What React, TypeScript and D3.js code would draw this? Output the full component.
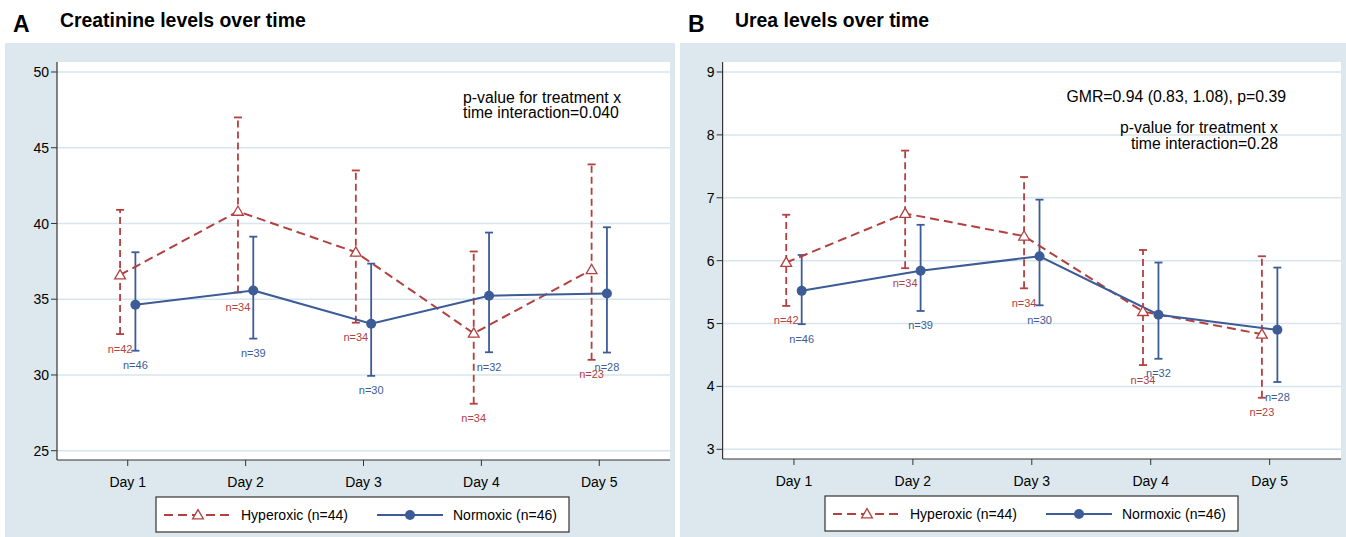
import React from "react";
import * as d3 from "d3";

const days = ["Day 1", "Day 2", "Day 3", "Day 4", "Day 5"];

// Panel A: creatinine
const creatTicks = [25, 30, 35, 40, 45, 50];
const creatHyperMean = [36.6, 40.8, 38.1, 32.75, 36.95];
const creatHyperLo = [32.7, 35.45, 33.45, 28.1, 31.0];
const creatHyperHi = [40.9, 47.0, 43.5, 38.15, 43.9];
const creatHyperN = [42, 34, 34, 34, 23];
const creatNormMean = [34.63, 35.58, 33.38, 35.23, 35.38];
const creatNormLo = [31.6, 32.4, 29.94, 31.5, 31.48];
const creatNormHi = [38.1, 39.13, 37.35, 39.4, 39.75];
const creatNormN = [46, 39, 30, 32, 28];

// Panel B: urea
const ureaTicks = [3, 4, 5, 6, 7, 8, 9];
const ureaHyperMean = [5.97, 6.75, 6.39, 5.19, 4.83];
const ureaHyperLo = [5.28, 5.88, 5.56, 4.34, 3.82];
const ureaHyperHi = [6.73, 7.75, 7.33, 6.17, 6.07];
const ureaHyperN = [42, 34, 34, 34, 23];
const ureaNormMean = [5.52, 5.84, 6.07, 5.14, 4.9];
const ureaNormLo = [4.99, 5.2, 5.29, 4.44, 4.07];
const ureaNormHi = [6.09, 6.57, 6.97, 5.97, 5.89];
const ureaNormN = [46, 39, 30, 32, 28];

const legendLabels = ["Hyperoxic (n=44)", "Normoxic (n=46)"];

const RED = "#b2403f";
const BLUE = "#3c5b97";
const BG = "#dce8ed";
const GRID = "#d7e6ee";
const FONT = "'Liberation Sans', Arial, Helvetica, sans-serif";

type Series = { mean: number[]; lo: number[]; hi: number[]; n: number[] };

type PanelProps = {
  letter: string;
  title: string;
  bgX0: number;
  bgX1: number;
  px0: number;
  px1: number;
  py0: number;
  py1: number;
  yDomain: [number, number];
  ticks: number[];
  hyper: Series;
  norm: Series;
  legendX: number;
  legendY: number;
  annotation: React.ReactNode;
};

function Triangle({ x, y, s, color, sw }: { x: number; y: number; s: number; color: string; sw: number }) {
  const sym = d3.symbol().type(d3.symbolTriangle).size(s)();
  return <path d={sym || ""} transform={`translate(${x},${y + 0.8})`} fill="white" stroke={color} strokeWidth={sw} />;
}

function Panel(p: PanelProps) {
  const x = d3.scaleLinear().domain([0.4, 5.6]).range([p.px0, p.px1]);
  const y = d3.scaleLinear().domain(p.yDomain).range([p.py1, p.py0]);
  const off = 0.065;
  const idx = d3.range(days.length);
  const hx = (i: number) => x(i + 1 - off);
  const nx = (i: number) => x(i + 1 + off);
  const lineH = d3.line<number>().x((i) => hx(i)).y((i) => y(p.hyper.mean[i]));
  const lineN = d3.line<number>().x((i) => nx(i)).y((i) => y(p.norm.mean[i]));
  const cap = 4;
  const dash = "7,4";
  const lx = p.legendX;
  const ly = p.legendY;
  return (
    <g>
      <rect x={p.bgX0} y={43} width={p.bgX1 - p.bgX0} height={537 - 43} fill={BG} />
      <rect x={p.px0} y={p.py0} width={p.px1 - p.px0} height={p.py1 - p.py0} fill="white" />
      <text x={p.bgX0 + 8} y={32} fontFamily={FONT} fontWeight="bold" fontSize={23}>{p.letter}</text>
      <text x={p.bgX0 + 55} y={27} fontFamily={FONT} fontWeight="bold" fontSize={19.4}>{p.title}</text>
      {p.ticks.map((t) => (
        <g key={t}>
          <line x1={p.px0} x2={p.px1} y1={y(t)} y2={y(t)} stroke={GRID} strokeWidth={1.5} />
          <line x1={p.px0 - 6} x2={p.px0} y1={y(t)} y2={y(t)} stroke="#333" strokeWidth={1} />
          <text x={p.px0 - 8} y={y(t)} dy="0.36em" textAnchor="end" fontFamily={FONT} fontSize={14}>{t}</text>
        </g>
      ))}
      <line x1={p.px0} x2={p.px0} y1={p.py0} y2={p.py1} stroke="#333" strokeWidth={1.2} />
      <line x1={p.px0} x2={p.px1} y1={p.py1} y2={p.py1} stroke="#333" strokeWidth={1.2} />
      {days.map((d, i) => (
        <g key={d}>
          <line x1={x(i + 1)} x2={x(i + 1)} y1={p.py1} y2={p.py1 + 6} stroke="#333" strokeWidth={1} />
          <text x={x(i + 1)} y={p.py1 + 27} textAnchor="middle" fontFamily={FONT} fontSize={14}>{d}</text>
        </g>
      ))}
      {idx.map((i) => (
        <g key={"eh" + i}>
          <line x1={hx(i)} x2={hx(i)} y1={y(p.hyper.lo[i])} y2={y(p.hyper.hi[i])} stroke={RED} strokeWidth={1.8} strokeDasharray={dash} />
          <line x1={hx(i) - cap} x2={hx(i) + cap} y1={y(p.hyper.lo[i])} y2={y(p.hyper.lo[i])} stroke={RED} strokeWidth={1.8} />
          <line x1={hx(i) - cap} x2={hx(i) + cap} y1={y(p.hyper.hi[i])} y2={y(p.hyper.hi[i])} stroke={RED} strokeWidth={1.8} />
        </g>
      ))}
      {idx.map((i) => (
        <g key={"en" + i}>
          <line x1={nx(i)} x2={nx(i)} y1={y(p.norm.lo[i])} y2={y(p.norm.hi[i])} stroke={BLUE} strokeWidth={1.8} />
          <line x1={nx(i) - cap} x2={nx(i) + cap} y1={y(p.norm.lo[i])} y2={y(p.norm.lo[i])} stroke={BLUE} strokeWidth={1.8} />
          <line x1={nx(i) - cap} x2={nx(i) + cap} y1={y(p.norm.hi[i])} y2={y(p.norm.hi[i])} stroke={BLUE} strokeWidth={1.8} />
        </g>
      ))}
      <path d={lineH(idx) || ""} fill="none" stroke={RED} strokeWidth={2} strokeDasharray="9,5" />
      <path d={lineN(idx) || ""} fill="none" stroke={BLUE} strokeWidth={2} />
      {idx.map((i) => (
        <Triangle key={"th" + i} x={hx(i)} y={y(p.hyper.mean[i])} s={50} color={RED} sw={1.3} />
      ))}
      {idx.map((i) => (
        <circle key={"cn" + i} cx={nx(i)} cy={y(p.norm.mean[i])} r={5} fill={BLUE} />
      ))}
      {idx.map((i) => (
        <text key={"nh" + i} x={hx(i)} y={y(p.hyper.lo[i]) + 18.5} textAnchor="middle" fontFamily={FONT} fontSize={11} fill={RED}>{"n=" + p.hyper.n[i]}</text>
      ))}
      {idx.map((i) => (
        <text key={"nn" + i} x={nx(i)} y={y(p.norm.lo[i]) + 18.5} textAnchor="middle" fontFamily={FONT} fontSize={11} fill={BLUE}>{"n=" + p.norm.n[i]}</text>
      ))}
      {p.annotation}
      <rect x={lx} y={ly} width={413} height={35} fill="white" stroke="#333" strokeWidth={1.2} />
      <line x1={lx + 8} x2={lx + 76} y1={ly + 18} y2={ly + 18} stroke={RED} strokeWidth={1.8} strokeDasharray="9,5" />
      <Triangle x={lx + 42} y={ly + 18} s={50} color={RED} sw={1.3} />
      <text x={lx + 85} y={ly + 23} fontFamily={FONT} fontSize={14}>{legendLabels[0]}</text>
      <line x1={lx + 221} x2={lx + 287} y1={ly + 18} y2={ly + 18} stroke={BLUE} strokeWidth={1.8} />
      <circle cx={lx + 254} cy={ly + 18} r={5} fill={BLUE} />
      <text x={lx + 297} y={ly + 23} fontFamily={FONT} fontSize={14}>{legendLabels[1]}</text>
    </g>
  );
}

export default function App() {
  const annA = (
    <g fontFamily={FONT} fontSize={15.8}>
      <text x={463} y={103}>p-value for treatment x</text>
      <text x={463} y={118}>time interaction=0.040</text>
    </g>
  );
  const annB = (
    <g fontFamily={FONT} fontSize={15.8} textAnchor="end">
      <text x={1286} y={102}>GMR=0.94 (0.83, 1.08), p=0.39</text>
      <text x={1278} y={133}>p-value for treatment x</text>
      <text x={1278} y={149}>time interaction=0.28</text>
    </g>
  );
  return (
    <svg width={1346} height={537} style={{ position: "absolute", left: 0, top: 0, display: "block" }}>
      <rect x={0} y={0} width={1346} height={537} fill="white" />
      <Panel
        letter="A"
        title="Creatinine levels over time"
        bgX0={5}
        bgX1={675}
        px0={57}
        px1={670}
        py0={62}
        py1={460}
        yDomain={[24.386, 50.66]}
        ticks={creatTicks}
        hyper={{ mean: creatHyperMean, lo: creatHyperLo, hi: creatHyperHi, n: creatHyperN }}
        norm={{ mean: creatNormMean, lo: creatNormLo, hi: creatNormHi, n: creatNormN }}
        legendX={156}
        legendY={497}
        annotation={annA}
      />
      <Panel
        letter="B"
        title="Urea levels over time"
        bgX0={680}
        bgX1={1346}
        px0={722.6}
        px1={1341}
        py0={62}
        py1={459}
        yDomain={[2.846, 9.159]}
        ticks={ureaTicks}
        hyper={{ mean: ureaHyperMean, lo: ureaHyperLo, hi: ureaHyperHi, n: ureaHyperN }}
        norm={{ mean: ureaNormMean, lo: ureaNormLo, hi: ureaNormHi, n: ureaNormN }}
        legendX={825}
        legendY={496}
        annotation={annB}
      />
    </svg>
  );
}
